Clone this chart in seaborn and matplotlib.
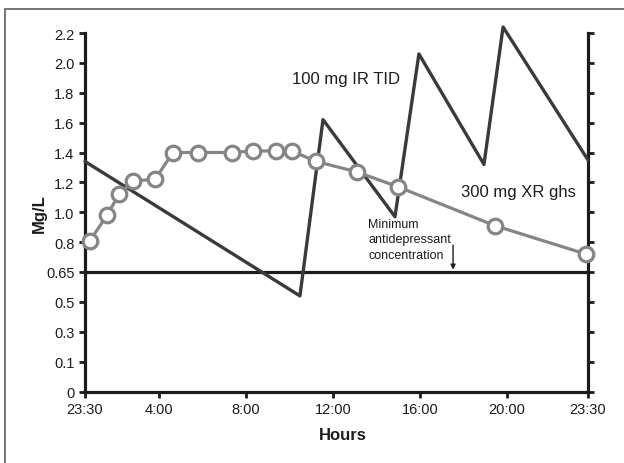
import numpy as np
import pandas as pd
import matplotlib
matplotlib.use("Agg")
import matplotlib.pyplot as plt
import seaborn as sns
from matplotlib import font_manager
from matplotlib.patches import Rectangle

# ---------------- data ----------------
xr_hours = [0.30, 1.34, 2.07, 2.92, 4.26, 5.14, 6.29, 7.86, 8.82, 9.88, 10.61, 11.72, 13.60, 15.49, 19.95, 23.91]
xr_conc = [0.81, 0.98, 1.12, 1.21, 1.22, 1.40, 1.40, 1.40, 1.41, 1.41, 1.41, 1.34, 1.27, 1.17, 0.91, 0.74]
ir_hours = [0.0, 10.98, 12.04, 15.35, 16.45, 19.44, 20.32, 24.0]
ir_conc = [1.34, 0.53, 1.62, 0.97, 2.06, 1.32, 2.24, 1.35]
threshold = 0.65

x_tick_hours = [0, 4.5, 8.5, 12.5, 16.5, 20.5, 24]
x_tick_labels = ["23:30", "4:00", "8:00", "12:00", "16:00", "20:00", "23:30"]
y_tick_values = [0, 0.1, 0.3, 0.5, 0.65, 0.8, 1.0, 1.2, 1.4, 1.6, 1.8, 2.0, 2.2]
y_tick_labels = ["0", "0.1", "0.3", "0.5", "0.65", "0.8", "1.0", "1.2", "1.4", "1.6", "1.8", "2.0", "2.2"]

# ---------------- style ----------------
sns.set_style("ticks")
names = {f.name for f in font_manager.fontManager.ttflist}
fam = "Liberation Sans Narrow" if "Liberation Sans Narrow" in names else "Liberation Sans"
plt.rcParams["font.family"] = [fam, "DejaVu Sans"]

# piecewise scales (tick marks evenly spaced on the original chart)
y_map_v = [-1.0] + y_tick_values + [4.2]
y_map_i = [-10.0] + list(range(len(y_tick_values))) + [22.0]
x_map_h = [-24.0] + x_tick_hours + [48.0]
x_map_p = [-24 * 16.44, 0, 74, 161, 248, 335, 422, 503, 503 + 24 * 23.14]

def y_fwd(v):
    return np.interp(v, y_map_v, y_map_i)

def y_inv(i):
    return np.interp(i, y_map_i, y_map_v)

def x_fwd(h):
    return np.interp(h, x_map_h, x_map_p)

def x_inv(p):
    return np.interp(p, x_map_p, x_map_h)

W, H = 624, 464
fig = plt.figure(figsize=(W / 100, H / 100), dpi=100)
ax = fig.add_axes([85 / W, (H - 392.5) / H, (588 - 85) / W, (392.5 - 34) / H])
ax.set_xscale("function", functions=(x_fwd, x_inv))
ax.set_yscale("function", functions=(y_fwd, y_inv))

df_ir = pd.DataFrame({"hours": ir_hours, "conc": ir_conc})
df_xr = pd.DataFrame({"hours": xr_hours, "conc": xr_conc})

ax.axhline(threshold, color="#1c1c1c", lw=2.3, zorder=2)

sns.lineplot(data=df_ir, x="hours", y="conc", estimator=None, sort=False,
             color="#3a3a3a", lw=2.4, ax=ax, clip_on=False, zorder=3,
             solid_joinstyle="round")
sns.lineplot(data=df_xr, x="hours", y="conc", estimator=None, sort=False,
             color="#858585", lw=2.3, marker="o", markersize=10.5,
             markerfacecolor="white", markeredgecolor="#858585",
             markeredgewidth=2.3, ax=ax, clip_on=False, zorder=4)

ax.set_xlim(0, 24)
ax.set_ylim(0, 2.2)
ax.set_xticks(x_tick_hours)
ax.set_xticklabels(x_tick_labels)
ax.set_yticks(y_tick_values)
ax.set_yticklabels(y_tick_labels)
ax.minorticks_off()

for s in ["left", "bottom", "right"]:
    ax.spines[s].set_linewidth(2.3)
    ax.spines[s].set_color("#1c1c1c")
ax.spines["top"].set_visible(False)
ax.tick_params(axis="both", direction="out", length=4.5, width=2.0,
               color="#1c1c1c", labelsize=10.5, pad=3, labelcolor="#1c1c1c")
ax.tick_params(axis="y", right=True, labelright=False)

ax.set_xlabel("Hours", fontsize=12, fontweight="bold", color="#1c1c1c")
ax.set_ylabel("Mg/L", fontsize=12, fontweight="bold", color="#1c1c1c")
ax.xaxis.set_label_coords((343 - 85) / 503, -(428 - 392.5) / 358.5)
ax.yaxis.set_label_coords((47 - 85) / 503, 0.5)

ax.text(10.61, 1.898, "100 mg IR TID", fontsize=12, va="center", ha="left", color="#1c1c1c")
ax.text(18.39, 1.136, "300 mg XR ghs", fontsize=12, va="center", ha="left", color="#1c1c1c")
ax.text(14.11, 0.96, "Minimum\nantidepressant\nconcentration", fontsize=9,
        va="top", ha="left", linespacing=1.35, color="#1c1c1c")
ax.annotate("", xy=(18.02, 0.662), xytext=(18.02, 0.785),
            arrowprops=dict(arrowstyle="-|>", color="#1c1c1c", lw=1.0,
                            mutation_scale=7, shrinkA=0, shrinkB=0))

fig.add_artist(Rectangle((5 / W, -0.2), 2.0, 1.2 - 10 / H, transform=fig.transFigure,
                         fill=False, edgecolor="#6a6a6a", lw=1.3, clip_on=False))

fig.savefig("out.png", dpi=100)
